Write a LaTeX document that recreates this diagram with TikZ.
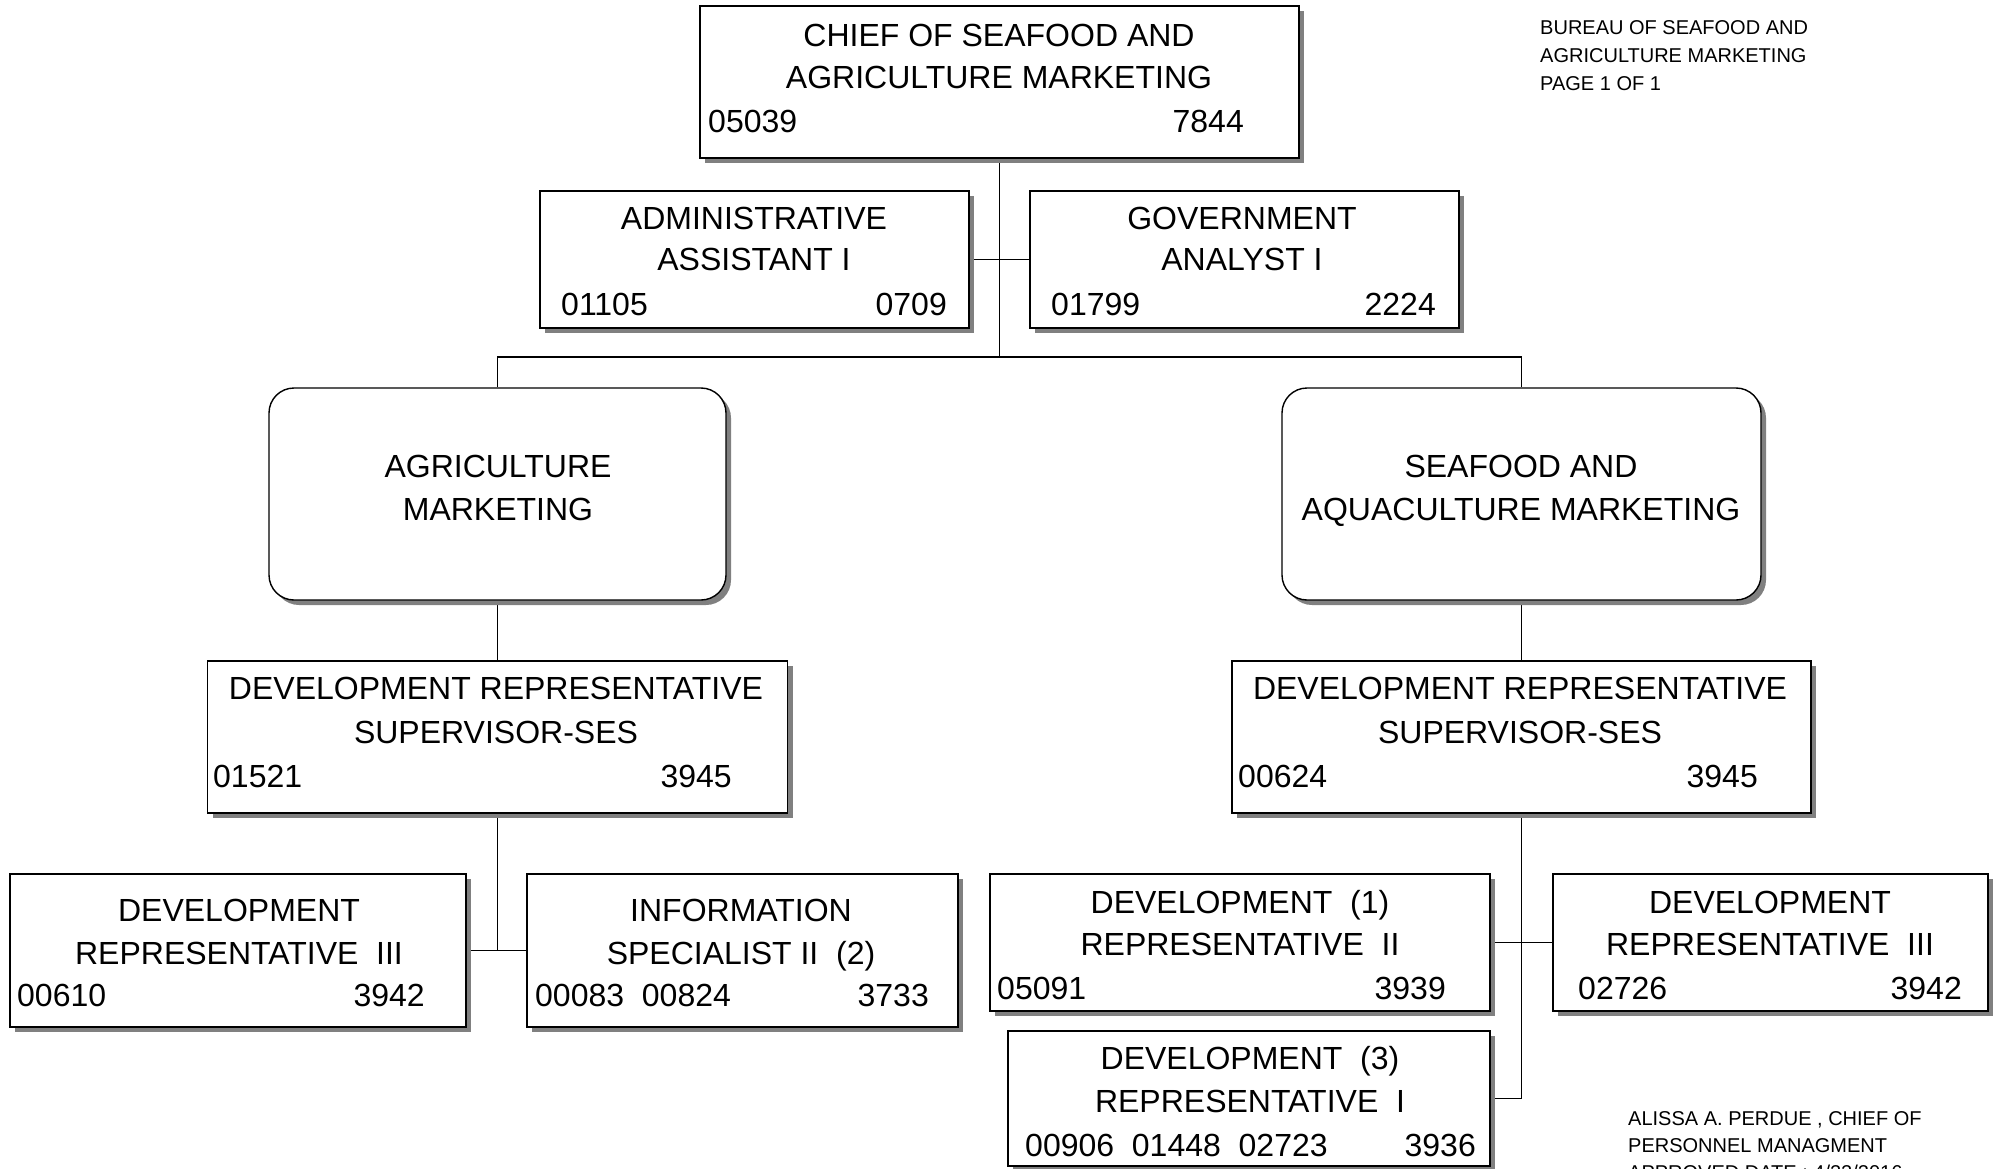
\documentclass[tikz,border=0pt]{standalone}
\usepackage{fontspec}
\setmainfont{Liberation Sans}
\usetikzlibrary{shadows}
\pgfdeclarelayer{bg}
\pgfsetlayers{bg,main}
\newcommand{\bigtxt}{\fontsize{32}{42}\selectfont}
\newcommand{\smalltxt}{\fontsize{20}{28}\selectfont}
\tikzset{
  posbox/.style={draw=black, line width=1.4pt, fill=white, inner sep=0pt,
    general shadow={fill=black!50, shadow xshift=5pt, shadow yshift=-5pt}},
  unitbox/.style={posbox, rounded corners=25pt},
  ttl/.style={font=\bigtxt, anchor=base, inner sep=0pt},
  numl/.style={font=\bigtxt, anchor=base west, inner sep=0pt},
  numr/.style={font=\bigtxt, anchor=base east, inner sep=0pt},
  note/.style={font=\smalltxt, anchor=base west, inner sep=0pt},
  wire/.style={draw=black, line width=1.3pt}
}
\begin{document}
\begin{tikzpicture}[x=1pt,y=-1pt]
\useasboundingbox (0,0) rectangle (2001,1169);

% ---- boxes ----
\node[posbox, minimum width=599pt, minimum height=152pt] (chief) at (999.5,82) {};
\node[posbox, minimum width=429pt, minimum height=137pt] (admin) at (754.5,259.5) {};
\node[posbox, minimum width=429pt, minimum height=137pt] (gov) at (1244.5,259.5) {};
\node[unitbox, minimum width=457pt, minimum height=212pt] (agri) at (497.5,494) {};
\node[unitbox, minimum width=479pt, minimum height=212pt] (sea) at (1521.5,494) {};
\node[posbox, minimum width=580pt, minimum height=152pt] (supL) at (497.5,737) {};
\node[posbox, minimum width=579pt, minimum height=152pt] (supR) at (1521.5,737) {};
\node[posbox, minimum width=456pt, minimum height=153pt] (devL) at (238,950.5) {};
\node[posbox, minimum width=431pt, minimum height=153pt] (info) at (742.5,950.5) {};
\node[posbox, minimum width=500pt, minimum height=137pt] (devB) at (1240,942.5) {};
\node[posbox, minimum width=435pt, minimum height=137pt] (devR) at (1770.5,942.5) {};
\node[posbox, minimum width=482pt, minimum height=135pt] (devA) at (1249,1098.5) {};

% ---- connectors, drawn beneath the boxes and their shadows ----
\coordinate (hub) at (999.5,357);
\begin{pgfonlayer}{bg}
\fill[white] (0,0) rectangle (2001,1169);
\draw[wire] (chief.south) -- (hub);
\draw[wire] (admin.east) -- (gov.west);
\draw[wire] (agri.north) |- (hub) -| (sea.north);
\draw[wire] (agri.south) -- (supL.north);
\draw[wire] (supL.south) -- (supL.south |- devL.east);
\draw[wire] (devL.east) -- (info.west);
\draw[wire] (sea.south) -- (supR.north);
\draw[wire] (supR.south) -- (supR.south |- devA.east) -- (devA.east);
\draw[wire] (devB.east) -- (devR.west);
\end{pgfonlayer}

% ---- box texts ----
\node[ttl] (chief1) at (999,46.5) {CHIEF OF SEAFOOD AND};
\node[ttl] (chief2) at (999,88.5) {AGRICULTURE MARKETING};
\node[numl] (chiefa) at (708,132.5) {05039};
\node[numr] (chiefb) at (1244,132.5) {7844};

\node[ttl] (admin1) at (754,229.5) {ADMINISTRATIVE};
\node[ttl] (admin2) at (754,270.5) {ASSISTANT I};
\node[numl] (admina) at (561,315.5) {01105};
\node[numr] (adminb) at (947,315.5) {0709};

\node[ttl] (gov1) at (1242,229.5) {GOVERNMENT};
\node[ttl] (gov2) at (1242,270.5) {ANALYST I};
\node[numl] (gova) at (1051,315.5) {01799};
\node[numr] (govb) at (1436,315.5) {2224};

\node[ttl] (agri1) at (498,477.5) {AGRICULTURE};
\node[ttl] (agri2) at (498,520.5) {MARKETING};

\node[ttl] (sea1) at (1521,477.5) {SEAFOOD AND};
\node[ttl] (sea2) at (1521,520.5) {AQUACULTURE MARKETING};

\node[ttl] (supL1) at (496,699.5) {DEVELOPMENT REPRESENTATIVE};
\node[ttl] (supL2) at (496,743.5) {SUPERVISOR-SES};
\node[numl] (supLa) at (213,787.5) {01521};
\node[numr] (supLb) at (732,787.5) {3945};

\node[ttl] (supR1) at (1520,699.5) {DEVELOPMENT REPRESENTATIVE};
\node[ttl] (supR2) at (1520,743.5) {SUPERVISOR-SES};
\node[numl] (supRa) at (1238,787.5) {00624};
\node[numr] (supRb) at (1758,787.5) {3945};

\node[ttl] (devL1) at (239,921.5) {DEVELOPMENT};
\node[ttl] (devL2) at (239,964.5) {REPRESENTATIVE\ \ III};
\node[numl] (devLa) at (17,1006.5) {00610};
\node[numr] (devLb) at (425,1006.5) {3942};

\node[ttl] (info1) at (741,921.5) {INFORMATION};
\node[ttl] (info2) at (741,964.5) {SPECIALIST II\ \ (2)};
\node[numl] (infoa) at (535,1006.5) {00083\ \ 00824};
\node[numr] (infob) at (929,1006.5) {3733};

\node[ttl] (devB1) at (1240,913.5) {DEVELOPMENT\ \ (1)};
\node[ttl] (devB2) at (1240,955.5) {REPRESENTATIVE\ \ II};
\node[numl] (devBa) at (997,999.5) {05091};
\node[numr] (devBb) at (1446,999.5) {3939};

\node[ttl] (devR1) at (1770,913.5) {DEVELOPMENT};
\node[ttl] (devR2) at (1770,955.5) {REPRESENTATIVE\ \ III};
\node[numl] (devRa) at (1578,999.5) {02726};
\node[numr] (devRb) at (1962,999.5) {3942};

\node[ttl] (devA1) at (1250,1069.5) {DEVELOPMENT\ \ (3)};
\node[ttl] (devA2) at (1250,1112.5) {REPRESENTATIVE\ \ I};
\node[numl] (devAa) at (1025,1156.5) {00906\ \ 01448\ \ 02723};
\node[numr] (devAb) at (1476,1156.5) {3936};

% ---- page notes ----
\node[note] (hdr1) at (1540,35) {BUREAU OF SEAFOOD AND};
\node[note] (hdr2) at (1540,63) {AGRICULTURE MARKETING};
\node[note] (hdr3) at (1540,91) {PAGE 1 OF 1};

\node[note] (sig1) at (1628,1125) {ALISSA A. PERDUE , CHIEF OF};
\node[note] (sig2) at (1628,1152) {PERSONNEL MANAGMENT};
\node[note] (sig3) at (1628,1179) {APPROVED DATE : 4/22/2016};
\end{tikzpicture}
\end{document}
